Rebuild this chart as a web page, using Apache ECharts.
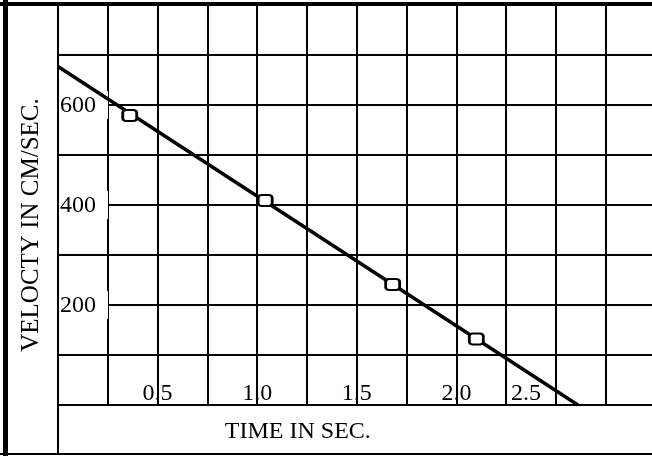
<!DOCTYPE html>
<html>
<head>
<meta charset="utf-8">
<script src="https://cdn.jsdelivr.net/npm/echarts@6/dist/echarts.min.js"></script>
<style>
html,body{margin:0;padding:0;background:#fff;}
#chart{width:652px;height:456px;}
</style>
</head>
<body>
<div id="chart"></div>
<script>
// Tick labels
const timeLabels = [0.5, 1.0, 1.5, 2.0, 2.5];
const velocityLabels = [200, 400, 600];
// Measured points (time s, velocity cm/s)
const pointTimes = [0.36, 1.04, 1.68, 2.10];
const pointVelocities = [579, 409, 241, 132];
// Fitted straight line end points
const fitTimes = [0, 2.61];
const fitVelocities = [677, 0];

const FONT = 'Liberation Serif';
const chart = echarts.init(document.getElementById('chart'), null, {renderer: 'canvas'});

const gridLine = {show: true, lineStyle: {color: '#000', width: 2}};

chart.setOption({
  animation: false,
  backgroundColor: '#fff',
  grid: {left: 58, top: 5, width: 597.6, height: 400, containLabel: false, outerBoundsMode: 'none'},
  xAxis: {
    type: 'value', min: 0, max: 3, interval: 0.25,
    axisLine: {show: true, lineStyle: {color: '#000', width: 2}},
    axisTick: {show: false},
    splitLine: gridLine,
    axisLabel: {
      inside: true, margin: -1,
      formatter: function (v) {
        const hit = timeLabels.find(t => Math.abs(t - v) < 1e-6);
        if (hit === undefined) return '';
        const s = hit.toFixed(1);
        return Math.abs(hit - 2.5) < 1e-6 ? '{s|' + s + '}' : '{n|' + s + '}';
      },
      rich: {
        n: {fontFamily: FONT, fontSize: 24, color: '#000'},
        s: {fontFamily: FONT, fontSize: 24, color: '#000', padding: [0, 60, 0, 0]}
      }
    },
    name: 'TIME IN SEC.', nameLocation: 'middle', nameGap: 15,
    nameTextStyle: {fontFamily: FONT, fontSize: 24, color: '#000', padding: [0, 118, 0, 0]}
  },
  yAxis: {
    type: 'value', min: 0, max: 800, interval: 100,
    axisLine: {show: true, lineStyle: {color: '#000', width: 2}},
    axisTick: {show: false},
    splitLine: gridLine,
    axisLabel: {
      inside: true, margin: 1,
      formatter: function (v) {
        return velocityLabels.indexOf(v) >= 0 ? '{a|' + v + '}' : '';
      },
      rich: {
        a: {fontFamily: FONT, fontSize: 24, color: '#000', backgroundColor: '#fff', padding: [3, 12, 1, 1]}
      }
    },
    name: 'VELOCTY IN CM/SEC.', nameLocation: 'middle', nameGap: 14, nameRotate: 90,
    nameTextStyle: {fontFamily: FONT, fontSize: 25, color: '#000', padding: [0, 40, 0, 0]}
  },
  series: [
    {
      type: 'line', symbol: 'none', z: 3,
      data: fitTimes.map((t, i) => [t, fitVelocities[i]]),
      lineStyle: {color: '#000', width: 3.5}
    },
    {
      type: 'scatter', symbol: 'roundRect', symbolSize: [14, 11], z: 4,
      data: pointTimes.map((t, i) => [t, pointVelocities[i]]),
      itemStyle: {color: '#fff', borderColor: '#000', borderWidth: 2.5, opacity: 1}
    }
  ],
  graphic: [
    {type: 'rect', shape: {x: 3, y: 0, width: 5, height: 456}, style: {fill: '#000'}, z: 10},
    {type: 'rect', shape: {x: 0, y: 2, width: 652, height: 4}, style: {fill: '#000'}, z: 10},
    {type: 'rect', shape: {x: 0, y: 453, width: 652, height: 2}, style: {fill: '#000'}, z: 10},
    {type: 'rect', shape: {x: 57, y: 405, width: 2, height: 50}, style: {fill: '#000'}, z: 10}
  ]
});
</script>
</body>
</html>
